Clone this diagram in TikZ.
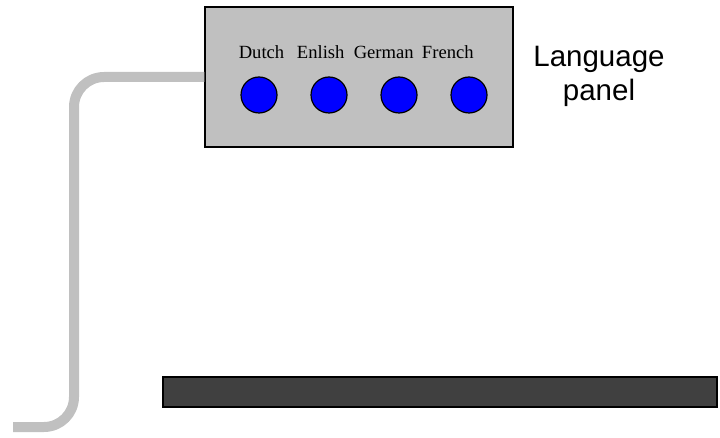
\documentclass[tikz,border=0pt]{standalone}
\usepackage{fontspec}
\setmainfont{Liberation Serif}
\newfontfamily\arialfont{Liberation Sans}
\definecolor{panelgray}{HTML}{C0C0C0}
\definecolor{bargray}{HTML}{404040}
\definecolor{btnblue}{HTML}{0000FF}
\tikzset{
  panelbox/.style={draw=black, line width=1.5pt, fill=panelgray, minimum width=308pt, minimum height=140pt, inner sep=0pt},
  barbox/.style={draw=black, line width=1.5pt, fill=bargray, minimum width=554pt, minimum height=30pt, inner sep=0pt},
  button/.style={circle, draw=black, line width=1.2pt, fill=btnblue, minimum size=36pt, inner sep=0pt},
  btnlabel/.style={font=\fontsize{18.6pt}{20pt}\selectfont, anchor=base, inner sep=0pt},
  cable/.style={draw=panelgray, line width=10pt, rounded corners=30pt},
  caption/.style={font=\arialfont\fontsize{29.5pt}{34pt}\selectfont, align=center, inner sep=0pt, anchor=base}
}
\begin{document}
\begin{tikzpicture}[x=1pt, y=-1pt]
  \useasboundingbox (0,0) rectangle (720,438);
  \node[panelbox] (panel) at (359,77) {};
  \node[barbox] (bar) at (440,392) {};
  \node[button] (b1) at (259,95) {};
  \node[button] (b2) at (329,95) {};
  \node[button] (b3) at (399,95) {};
  \node[button] (b4) at (469,95) {};
  \node[btnlabel] (l1) at (261.5,58.5) {Dutch};
  \node[btnlabel] (l2) at (320.7,58.5) {Enlish};
  \node[btnlabel] (l3) at (383.7,58.5) {German};
  \node[btnlabel] (l4) at (447.8,58.5) {French};
  \node[caption] (cap) at (599,101) {Language\\panel};
  \coordinate (cableend) at (13,427);
  \draw[cable] (panel.west) -- (74,77) -- (74,427) -- (cableend);
\end{tikzpicture}
\end{document}
